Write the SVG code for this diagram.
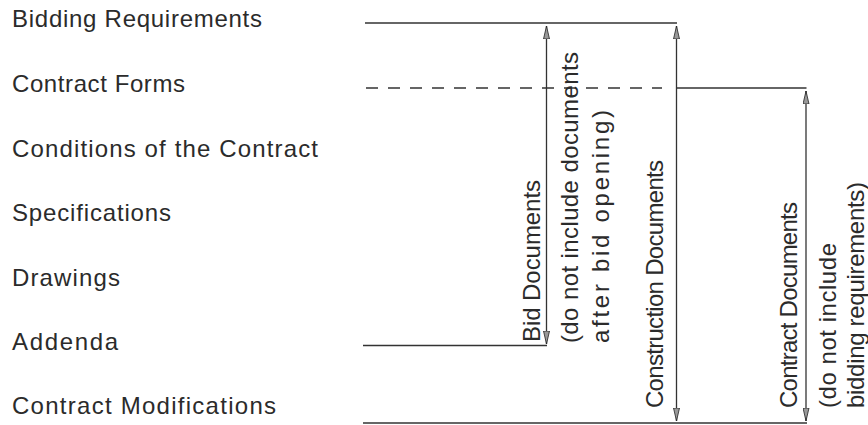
<svg xmlns="http://www.w3.org/2000/svg" width="868" height="425" viewBox="0 0 868 425">
<style>
text{font-family:"Liberation Sans",Arial,sans-serif;font-size:24px;fill:#2b2b2b}
.ln{stroke:#333;stroke-width:1.3;fill:none}
.dash{stroke-dasharray:12 10}
.arr{stroke:#333;stroke-width:1.3;fill:none;marker-start:url(#ah);marker-end:url(#ah)}
</style>
<defs>
<marker id="ah" markerUnits="userSpaceOnUse" viewBox="0 0 13 7" refX="13" refY="3.5" markerWidth="13" markerHeight="7" orient="auto-start-reverse">
<path d="M0,0.5 L13,3.5 L0,6.5 z" fill="#999" stroke="#222" stroke-width="0.8"/>
</marker>
</defs>
<rect width="868" height="425" fill="#fff"/>
<g id="labels">
<g id="n-bidding"><text x="12" y="27" textLength="250" lengthAdjust="spacing">Bidding Requirements</text></g>
<g id="n-forms"><text x="12" y="92" textLength="173" lengthAdjust="spacing">Contract Forms</text></g>
<g id="n-conditions"><text x="12" y="157" textLength="306" lengthAdjust="spacing">Conditions of the Contract</text></g>
<g id="n-specs"><text x="12" y="221" textLength="159" lengthAdjust="spacing">Specifications</text></g>
<g id="n-drawings"><text x="12" y="286" textLength="108" lengthAdjust="spacing">Drawings</text></g>
<g id="n-addenda"><text x="12" y="350" textLength="106" lengthAdjust="spacing">Addenda</text></g>
<g id="n-mods"><text x="12" y="414" textLength="264" lengthAdjust="spacing">Contract Modifications</text></g>
</g>
<g id="connectors">
<line class="ln" x1="365" y1="23" x2="677" y2="23"/>
<line class="ln dash" x1="366" y1="88" x2="662" y2="88"/>
<line class="ln" x1="676.5" y1="88" x2="806.5" y2="88"/>
<line class="ln" x1="363" y1="345.5" x2="547" y2="345.5"/>
<line class="ln" x1="363" y1="423" x2="807" y2="423"/>
<line class="arr" x1="546.5" y1="26" x2="546.5" y2="344"/>
<line class="arr" x1="676.5" y1="26" x2="676.5" y2="421"/>
<line class="arr" x1="806" y1="91" x2="806" y2="421"/>
</g>
<g id="bid-docs">
<text transform="translate(540,342) rotate(-90)" textLength="162" lengthAdjust="spacing">Bid Documents</text>
<text transform="translate(578,343) rotate(-90)" textLength="291" lengthAdjust="spacing">(do not include documents</text>
<text transform="translate(609,343) rotate(-90)" textLength="233" lengthAdjust="spacing">after bid opening)</text>
</g>
<g id="construction-docs">
<text transform="translate(663,408) rotate(-90)" textLength="248" lengthAdjust="spacing">Construction Documents</text>
</g>
<g id="contract-docs">
<text transform="translate(797,408) rotate(-90)" textLength="206" lengthAdjust="spacing">Contract Documents</text>
<text transform="translate(836,408) rotate(-90)" textLength="165" lengthAdjust="spacing">(do not include</text>
<text transform="translate(864,408) rotate(-90)" textLength="226" lengthAdjust="spacing">bidding requirements)</text>
</g>
</svg>
